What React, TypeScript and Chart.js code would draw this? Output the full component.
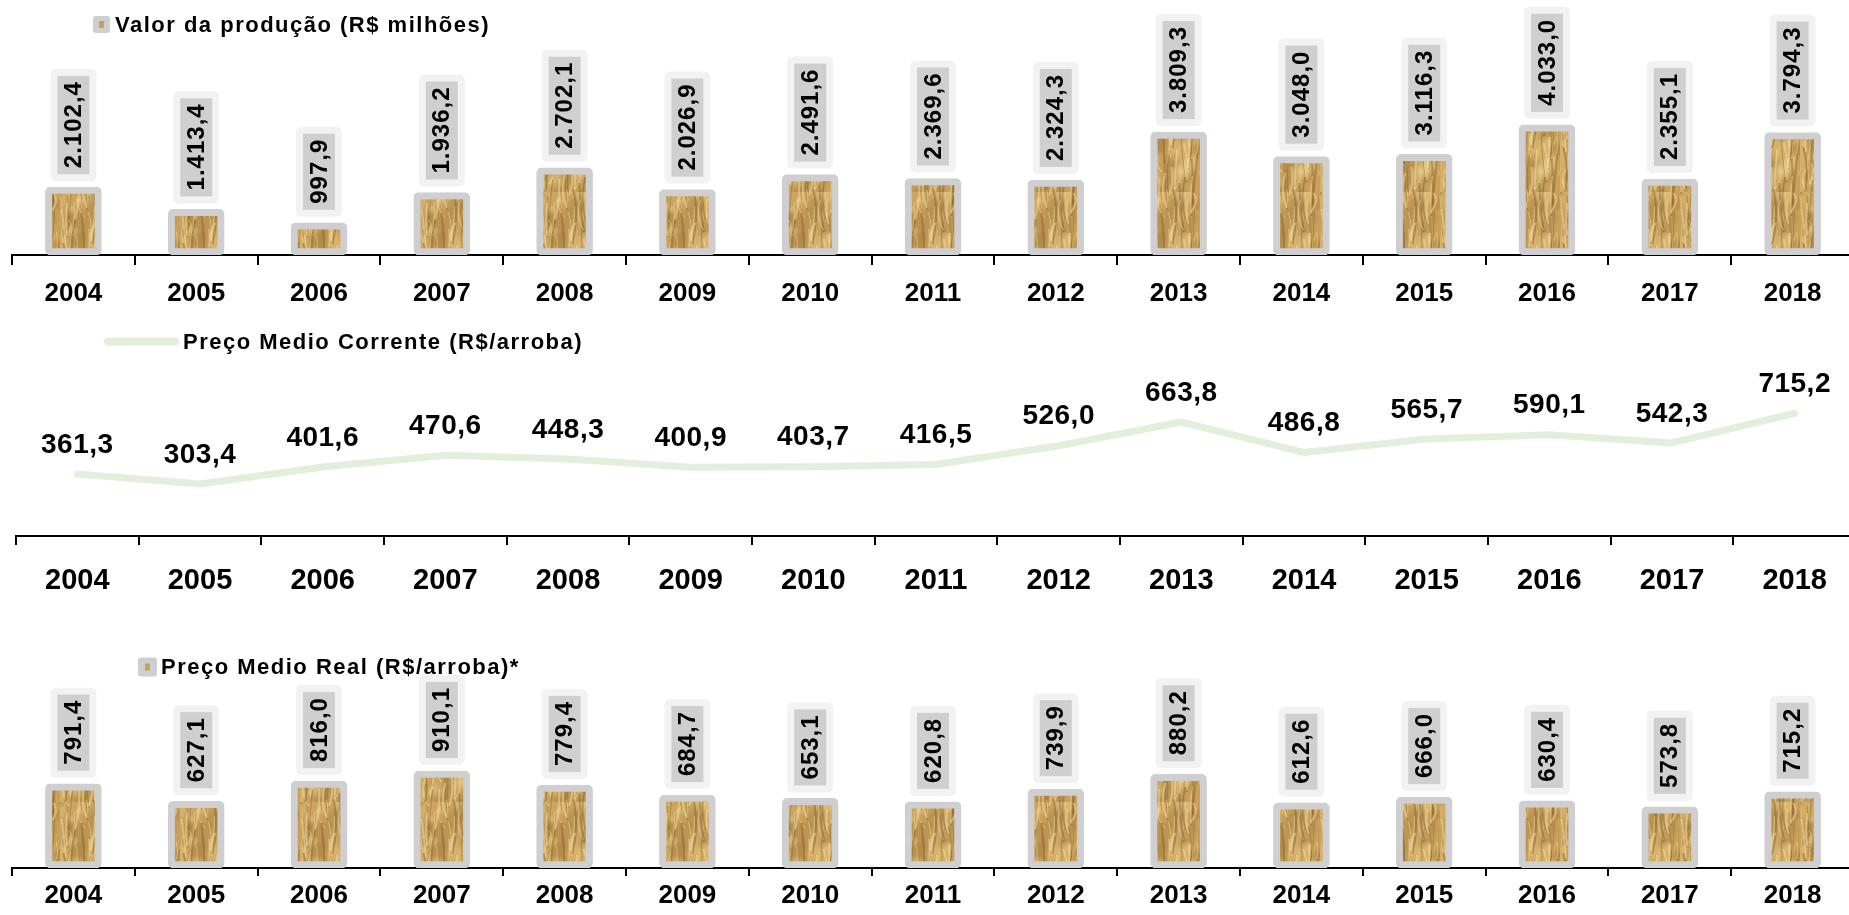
import React, { useEffect, useRef } from "react";
import { Chart, registerables } from "chart.js";

Chart.register(...registerables);

// ---------------- data ----------------
const years = ["2004", "2005", "2006", "2007", "2008", "2009", "2010", "2011", "2012", "2013", "2014", "2015", "2016", "2017", "2018"];
const valorProducao = [2102.4, 1413.4, 997.9, 1936.2, 2702.1, 2026.9, 2491.6, 2369.6, 2324.3, 3809.3, 3048.0, 3116.3, 4033.0, 2355.1, 3794.3];
const precoCorrente = [361.3, 303.4, 401.6, 470.6, 448.3, 400.9, 403.7, 416.5, 526.0, 663.8, 486.8, 565.7, 590.1, 542.3, 715.2];
const precoReal = [791.4, 627.1, 816.0, 910.1, 779.4, 684.7, 653.1, 620.8, 739.9, 880.2, 612.6, 666.0, 630.4, 573.8, 715.2];

const legendValor = "Valor da produção (R$ milhões)";
const legendCorrente = "Preço Medio Corrente (R$/arroba)";
const legendReal = "Preço Medio Real (R$/arroba)*";

// ---------------- style ----------------
const FONT = "'Liberation Sans', Arial, Helvetica, sans-serif";
const PAGE_W = 1856;
const BAR_BORDER = "#cfcfd1";
const LABEL_BOX = "#cfcfcf";
const LABEL_HALO = "#f2f2f2";
const LINE_GREEN = "#e2efda";

function fmt(v: number): string {
  const fixed = Math.abs(v).toFixed(1);
  const [i, d] = fixed.split(".");
  const withDots = i.replace(/\B(?=(\d{3})+(?!\d))/g, ".");
  return (v < 0 ? "-" : "") + withDots + "," + d;
}

function makeStrawPattern(): CanvasPattern | string {
  const c = document.createElement("canvas");
  const W = 60, H = 96;
  c.width = W;
  c.height = H;
  const g = c.getContext("2d");
  if (!g) return "#d0a862";
  const grad = g.createLinearGradient(0, 0, W, 0);
  grad.addColorStop(0, "#d6b16b");
  grad.addColorStop(0.3, "#c9a05a");
  grad.addColorStop(0.65, "#d8b46e");
  grad.addColorStop(1, "#c89e58");
  g.fillStyle = grad;
  g.fillRect(0, 0, W, H);
  // darker mottling
  for (let i = 0; i < 18; i++) {
    const cx = (i * 23) % W;
    const cy = (i * 41) % H;
    const r = 6 + ((i * 7) % 11);
    const rg = g.createRadialGradient(cx, cy, 0, cx, cy, r);
    rg.addColorStop(0, "rgba(135,95,40,0.38)");
    rg.addColorStop(1, "rgba(135,95,40,0)");
    g.fillStyle = rg;
    g.fillRect(cx - r, cy - r, 2 * r, 2 * r);
  }
  // light patches
  for (let i = 0; i < 10; i++) {
    const cx = (i * 31 + 11) % W;
    const cy = (i * 59 + 17) % H;
    const r = 5 + ((i * 5) % 8);
    const rg = g.createRadialGradient(cx, cy, 0, cx, cy, r);
    rg.addColorStop(0, "rgba(245,222,160,0.45)");
    rg.addColorStop(1, "rgba(245,222,160,0)");
    g.fillStyle = rg;
    g.fillRect(cx - r, cy - r, 2 * r, 2 * r);
  }
  // straw fibres
  for (let i = 0; i < 46; i++) {
    const x = ((i * 37) % W) + 0.5;
    const y = (i * 53) % H;
    const len = 14 + ((i * 29) % 44);
    const light = i % 3 !== 0;
    g.strokeStyle = light ? "rgba(248,228,168,0.45)" : "rgba(125,88,38,0.4)";
    g.lineWidth = 1 + (i % 2);
    for (const dy of [0, -H]) {
      g.beginPath();
      g.moveTo(x, y + dy);
      g.quadraticCurveTo(x + ((i % 5) - 2) * 3, y + dy + len / 2, x + ((i % 7) - 3) * 1.5, y + dy + len);
      g.stroke();
    }
  }
  return g.createPattern(c, "repeat") || "#d0a862";
}

function roundRectPath(ctx: CanvasRenderingContext2D, x: number, y: number, w: number, h: number, r: number) {
  ctx.beginPath();
  ctx.moveTo(x + r, y);
  ctx.lineTo(x + w - r, y);
  ctx.quadraticCurveTo(x + w, y, x + w, y + r);
  ctx.lineTo(x + w, y + h - r);
  ctx.quadraticCurveTo(x + w, y + h, x + w - r, y + h);
  ctx.lineTo(x + r, y + h);
  ctx.quadraticCurveTo(x, y + h, x, y + h - r);
  ctx.lineTo(x, y + r);
  ctx.quadraticCurveTo(x, y, x + r, y);
  ctx.closePath();
}

// rotated value labels in grey boxes above bars
const barLabelPlugin = {
  id: "barLabels",
  afterDatasetsDraw(chart: any) {
    const ctx: CanvasRenderingContext2D = chart.ctx;
    const meta = chart.getDatasetMeta(0);
    const data = chart.data.datasets[0].data as number[];
    ctx.save();
    ctx.font = `bold 24px ${FONT}`;
    (ctx as any).letterSpacing = "1px";
    meta.data.forEach((el: any, i: number) => {
      const txt = fmt(data[i]);
      const L = ctx.measureText(txt).width;
      const x = el.x;
      const bottom = el.y - 6;
      const haloLen = L + 25;
      ctx.fillStyle = LABEL_HALO;
      roundRectPath(ctx, x - 23, bottom - haloLen, 46, haloLen, 6);
      ctx.fill();
      ctx.fillStyle = LABEL_BOX;
      ctx.fillRect(x - 16, bottom - haloLen + 7, 32, L + 11);
      ctx.save();
      ctx.translate(x, bottom - haloLen / 2);
      ctx.rotate(-Math.PI / 2);
      ctx.fillStyle = "#000";
      ctx.textAlign = "center";
      ctx.textBaseline = "middle";
      ctx.fillText(txt, 0.5, 1);
      ctx.restore();
    });
    ctx.restore();
  },
};

// value labels above line points
const lineLabelPlugin = {
  id: "lineLabels",
  afterDatasetsDraw(chart: any) {
    const ctx: CanvasRenderingContext2D = chart.ctx;
    const meta = chart.getDatasetMeta(0);
    const data = chart.data.datasets[0].data as number[];
    ctx.save();
    ctx.font = `bold 28px ${FONT}`;
    (ctx as any).letterSpacing = "0.5px";
    ctx.fillStyle = "#000";
    ctx.textAlign = "center";
    ctx.textBaseline = "middle";
    meta.data.forEach((el: any, i: number) => {
      ctx.fillText(fmt(data[i]), el.x, el.y - 29);
    });
    ctx.restore();
  },
};

// simple legend drawn at a fixed spot
const legendPlugin = {
  id: "fixedLegend",
  afterDraw(chart: any, _args: any, opts: any) {
    const ctx: CanvasRenderingContext2D = chart.ctx;
    ctx.save();
    if (opts.kind === "box") {
      ctx.fillStyle = BAR_BORDER;
      roundRectPath(ctx, opts.x, opts.y - opts.size / 2, opts.size, opts.size, 3);
      ctx.fill();
      ctx.fillStyle = "#c9a25a";
      ctx.fillRect(opts.x + opts.size / 2 - 2.5, opts.y - 3.5, 5, 7);
    } else {
      ctx.strokeStyle = LINE_GREEN;
      ctx.lineWidth = 8;
      ctx.lineCap = "round";
      ctx.beginPath();
      ctx.moveTo(opts.x + 4, opts.y);
      ctx.lineTo(opts.x + opts.size - 4, opts.y);
      ctx.stroke();
    }
    ctx.font = `bold 22px ${FONT}`;
    (ctx as any).letterSpacing = "1.5px";
    ctx.fillStyle = "#000";
    ctx.textAlign = "left";
    ctx.textBaseline = "middle";
    ctx.fillText(opts.text, opts.textX, opts.y + 1);
    ctx.restore();
  },
};

function xScale(height: number, tickLen: number, pad: number, size: number) {
  return {
    type: "category" as const,
    offset: true,
    grid: { display: true, drawOnChartArea: false, drawTicks: true, tickLength: tickLen, color: "#000", lineWidth: 2, offset: true },
    border: { display: true, color: "#000", width: 2 },
    ticks: { color: "#000", font: { family: FONT, size, weight: "bold" as const }, padding: pad, maxRotation: 0, autoSkip: false },
    afterFit: (s: any) => {
      s.height = height;
    },
  };
}

function barConfig(values: number[], pattern: any, max: number, padTop: number, padLeft: number, xH: number, tickLen: number, tickPad: number, legend: any): any {
  return {
    type: "bar",
    data: {
      labels: years,
      datasets: [
        {
          data: values,
          backgroundColor: pattern,
          borderColor: BAR_BORDER,
          borderWidth: 7,
          borderRadius: 5,
          borderSkipped: false,
          barThickness: 56,
        },
      ],
    },
    options: {
      responsive: false,
      animation: false,
      layout: { padding: { top: padTop, left: padLeft, right: 2, bottom: 0 } },
      scales: {
        x: xScale(xH, tickLen, tickPad, 26),
        y: { display: false, min: 0, max },
      },
      plugins: { legend: { display: false }, tooltip: { enabled: false }, fixedLegend: legend },
    },
    plugins: [barLabelPlugin, legendPlugin],
  };
}

export default function App() {
  const r1 = useRef<HTMLCanvasElement>(null);
  const r2 = useRef<HTMLCanvasElement>(null);
  const r3 = useRef<HTMLCanvasElement>(null);

  useEffect(() => {
    const pattern = makeStrawPattern();
    const c1 = new Chart(
      r1.current as HTMLCanvasElement,
      barConfig(valorProducao, pattern, 7500, 13, 12, 55, 10, 13, {
        kind: "box", x: 93, y: 24.5, size: 17, text: legendValor, textX: 115,
      })
    );
    const c2 = new Chart(r2.current as HTMLCanvasElement, {
      type: "line",
      data: {
        labels: years,
        datasets: [
          {
            data: precoCorrente,
            borderColor: LINE_GREEN,
            borderWidth: 7,
            pointRadius: 0,
            tension: 0,
            fill: false,
            borderCapStyle: "round",
            borderJoinStyle: "round",
          },
        ],
      },
      options: {
        responsive: false,
        animation: false,
        layout: { padding: { top: 20, left: 16, right: 0, bottom: 0 } },
        scales: {
          x: xScale(74, 9, 19, 29),
          y: { display: false, min: 0, max: 1200 },
        },
        plugins: {
          legend: { display: false },
          tooltip: { enabled: false },
          fixedLegend: { kind: "line", x: 104, y: 31.5, size: 75, text: legendCorrente, textX: 183 },
        },
      } as any,
      plugins: [lineLabelPlugin, legendPlugin],
    } as any);
    const c3 = new Chart(
      r3.current as HTMLCanvasElement,
      barConfig(precoReal, pattern, 2000, 45, 12, 47, 8, 4, {
        kind: "box", x: 138, y: 57, size: 19, text: legendReal, textX: 161,
      })
    );
    return () => {
      c1.destroy();
      c2.destroy();
      c3.destroy();
    };
  }, []);

  return (
    <div style={{ position: "fixed", left: 0, top: 0, width: PAGE_W, height: 915, overflow: "hidden", background: "#fff" }}>
      <canvas ref={r1} width={PAGE_W} height={310} style={{ position: "absolute", left: 0, top: 0, width: PAGE_W, height: 310 }} />
      <canvas ref={r2} width={PAGE_W} height={300} style={{ position: "absolute", left: 0, top: 310, width: PAGE_W, height: 300 }} />
      <canvas ref={r3} width={PAGE_W} height={305} style={{ position: "absolute", left: 0, top: 610, width: PAGE_W, height: 305 }} />
    </div>
  );
}
